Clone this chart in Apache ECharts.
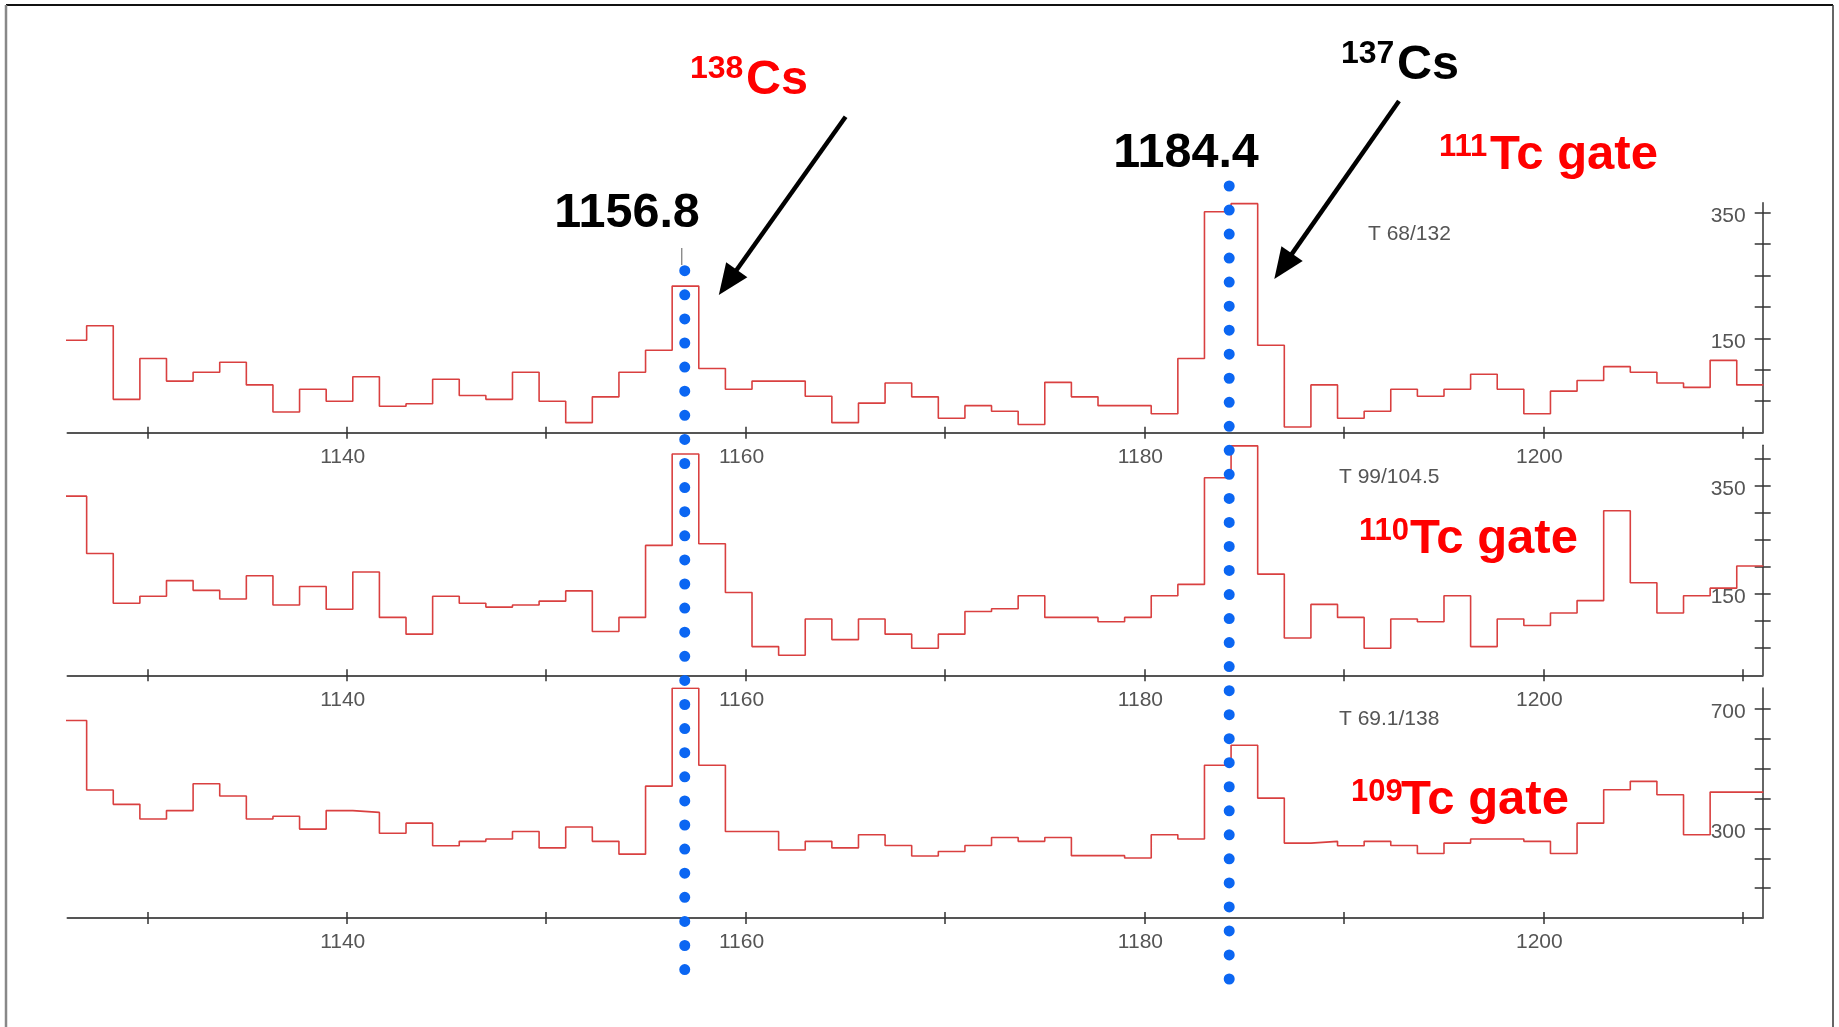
<!DOCTYPE html>
<html><head><meta charset="utf-8">
<script src="https://cdn.jsdelivr.net/npm/echarts@6/dist/echarts.min.js"></script>
<style>html,body{margin:0;padding:0;background:#fff}#c{width:1839px;height:1027px}</style>
</head><body><div id="c"></div>
<script>
// ---------- data ----------
const xMin = 1126, xMax = 1211;
const binStart = 1125.6255;   // left edge of first (partial) bin, keV
const binWidth = 1.3345;      // keV per bin
const xTicks = [1130,1140,1150,1160,1170,1180,1190,1200,1210];
const xTickLabels = [1140,1160,1180,1200];

const gateNames = ['111', '110', '109'];
const gateLabels = ['T 68/132', 'T 99/104.5', 'T 69.1/138'];

const counts111 = [147,170,53,118,82,96,112,76,33,69,50,89,42,46,85,59,53,96,50,16,57,96,131,233,102,69,82,82,58,16,47,79,
  57,23,43,34,13,80,57,43,43,30,118,351,364,139,9,76,23,34,69,58,69,93,69,30,66,83,105,96,79,72,115,76];
const counts110 = [331,225,133,146,175,157,141,184,130,164,122,191,107,76,146,133,126,130,137,156,81,107,240,409,243,153,53,37,104,66,104,76,
  50,76,118,123,147,107,107,99,107,147,168,365,424,187,69,131,107,50,104,99,147,53,104,92,115,138,304,171,115,147,161,202];
const counts109 = [662,429,381,332,360,450,409,332,341,298,360,354,284,318,242,257,265,290,235,305,257,214,442,770,512,290,290,228,257,235,279,243,
  208,223,243,270,257,270,209,209,201,279,265,512,579,402,251,257,242,257,243,216,251,265,265,257,216,318,430,458,413,279,422,422];

const yMaxes = [365.5, 425, 771];
const yTicks = [[50,100,150,200,250,300,350],[50,100,150,200,250,300,350,400],[100,200,300,400,500,600,700]];
const yTickLabels = [[150,350],[150,350],[300,700]];

const peakLabels = ['1156.8', '1184.4'];
const peakMarkerEnergy = 1156.8;
const dottedEnergies = [1156.95, 1184.25];

// ---------- layout ----------
const gridLeft = 67.5, gridRight = 76.3, gridH = 230;
const gridTops = [202.7, 445.3, 688];
const dotSpans = [[270.7, 969.6], [186, 979]];
const FONT = "'Liberation Sans', Arial, sans-serif";

function stepData(counts) {
  const d = counts.map((c, i) => [binStart + i * binWidth, c]);
  d.push([binStart + counts.length * binWidth, counts[counts.length - 1]]);
  return d;
}
const allCounts = [counts111, counts110, counts109];

const grids = [], xAxes = [], yAxes = [], series = [];
for (let p = 0; p < 3; p++) {
  grids.push({left: gridLeft, right: gridRight, top: gridTops[p], height: gridH});
  const common = {gridIndex: p, type: 'value', min: xMin, max: xMax, position: 'bottom', splitLine: {show: false}};
  xAxes.push(Object.assign({}, common, {
    axisLine: {show: true, lineStyle: {color: '#555', width: 2}},
    axisTick: {show: true, inside: false, length: 6, customValues: xTicks, lineStyle: {color: '#333', width: 1.5}},
    axisLabel: {show: true, customValues: xTickLabels, formatter: v => String(v), fontSize: 21, color: '#555', fontFamily: FONT, margin: 14, padding: [0, 8, 0, 0]}
  }));
  xAxes.push(Object.assign({}, common, {
    axisLine: {show: false},
    axisTick: {show: true, inside: true, length: 6, customValues: xTicks, lineStyle: {color: '#333', width: 1.5}},
    axisLabel: {show: false}
  }));
  const yc = {gridIndex: p, type: 'value', min: 0, max: yMaxes[p], position: 'right', splitLine: {show: false}};
  yAxes.push(Object.assign({}, yc, {
    axisLine: {show: true, lineStyle: {color: '#333', width: 1.5}},
    axisTick: {show: true, inside: false, length: 8, customValues: yTicks[p], lineStyle: {color: '#333', width: 1.5}},
    axisLabel: {show: true, inside: true, customValues: yTickLabels[p], formatter: v => '{a|' + v + '}', margin: 17,
      rich: {a: {fontSize: 21, color: '#555', fontFamily: FONT, padding: [7, 0, 0, 0]}}}
  }));
  yAxes.push(Object.assign({}, yc, {
    axisLine: {show: false},
    axisTick: {show: true, inside: true, length: 8, customValues: yTicks[p], lineStyle: {color: '#333', width: 1.5}},
    axisLabel: {show: false}
  }));
  series.push({
    type: 'line', xAxisIndex: 2 * p, yAxisIndex: 2 * p, step: 'end', symbol: 'none', silent: true,
    lineStyle: {color: '#d94040', width: 1.6}, data: stepData(allCounts[p]), clip: true, z: 2
  });
}
// overlay grid (pixel y) for reference lines
grids.push({left: gridLeft, right: gridRight, top: 0, height: 1027});
xAxes.push({gridIndex: 3, type: 'value', min: xMin, max: xMax, show: false});
yAxes.push({gridIndex: 3, type: 'value', min: 0, max: 1027, inverse: true, show: false});
dottedEnergies.forEach((e, i) => {
  const span = dotSpans[i][1] - dotSpans[i][0];
  const gap = span / Math.round(span / 24.05);
  series.push({
    type: 'line', xAxisIndex: 6, yAxisIndex: 6, symbol: 'none', silent: true, z: 5, clip: false,
    lineStyle: {color: '#0b66f2', width: 11, type: [0, gap], cap: 'round'},
    data: [[e, dotSpans[i][0]], [e, dotSpans[i][1] + 1]]
  });
});
series.push({
  type: 'line', xAxisIndex: 6, yAxisIndex: 6, symbol: 'none', silent: true, z: 3,
  lineStyle: {color: '#777', width: 1.2}, data: [[peakMarkerEnergy, 248], [peakMarkerEnergy, 265]]
});

// ---------- annotations (graphic) ----------
function txt(text, x, y, size, color, weight, align) {
  return {type: 'text', x: x, y: y, z: 10, silent: true,
    style: {text: text, fill: color, font: (weight || 'normal') + ' ' + size + 'px ' + FONT,
      align: align || 'left', verticalAlign: 'middle'}};
}
function arrow(x0, y0, x1, y1) {
  const dx = x1 - x0, dy = y1 - y0, L = Math.hypot(dx, dy), ux = dx / L, uy = dy / L;
  const hl = 31, hw = 13;
  const bx = x1 - ux * hl, by = y1 - uy * hl;
  return [
    {type: 'line', z: 10, silent: true, shape: {x1: x0, y1: y0, x2: bx + ux * 4, y2: by + uy * 4}, style: {stroke: '#000', lineWidth: 4.5}},
    {type: 'polygon', z: 10, silent: true, shape: {points: [[x1, y1], [bx - uy * hw, by + ux * hw], [bx + uy * hw, by - ux * hw]]}, style: {fill: '#000'}}
  ];
}
const D = 3.5; // baseline correction for bold annotations
const graphics = [
  {type: 'line', z: 1, silent: true, shape: {x1: 6, y1: 5, x2: 1833, y2: 5}, style: {stroke: '#111', lineWidth: 2}},
  {type: 'line', z: 1, silent: true, shape: {x1: 6, y1: 5, x2: 6, y2: 1027}, style: {stroke: '#888', lineWidth: 2.5}},
  {type: 'line', z: 1, silent: true, shape: {x1: 1833, y1: 5, x2: 1833, y2: 1027}, style: {stroke: '#333', lineWidth: 1.5}},
  txt('138', 690, 65.5 + D, 32, '#ff0000', 'bold'),
  txt('Cs', 746, 76.8 + D, 48.5, '#ff0000', 'bold'),
  txt('137', 1341, 50.5 + D, 32, '#000', 'bold'),
  txt('Cs', 1397, 61.8 + D, 48.5, '#000', 'bold'),
  txt(peakLabels[0], 627, 210.2 + D, 48.5, '#000', 'bold', 'center'),
  txt(peakLabels[1], 1186, 150.2 + D, 48.5, '#000', 'bold', 'center'),
  txt(gateNames[0], 1439, 144.1 + D, 31, '#ff0000', 'bold'),
  txt('Tc gate', 1490, 151.8 + D, 49, '#ff0000', 'bold'),
  txt(gateNames[1], 1359, 528.1 + D, 31, '#ff0000', 'bold'),
  txt('Tc gate', 1410, 535.5 + D, 49, '#ff0000', 'bold'),
  txt(gateNames[2], 1351, 789.1 + D, 31, '#ff0000', 'bold'),
  txt('Tc gate', 1401, 797 + D, 49, '#ff0000', 'bold'),
  txt(gateLabels[0], 1368, 234, 21, '#555'),
  txt(gateLabels[1], 1339, 477.5, 21, '#555'),
  txt(gateLabels[2], 1339, 719, 21, '#555')
].concat(arrow(845.6, 116.7, 718.8, 295), arrow(1399, 101, 1274.3, 279));

const chart = echarts.init(document.getElementById('c'), null, {renderer: 'canvas'});
chart.setOption({
  backgroundColor: '#fff', animation: false,
  grid: grids, xAxis: xAxes, yAxis: yAxes, series: series, graphic: graphics
});
</script></body></html>
